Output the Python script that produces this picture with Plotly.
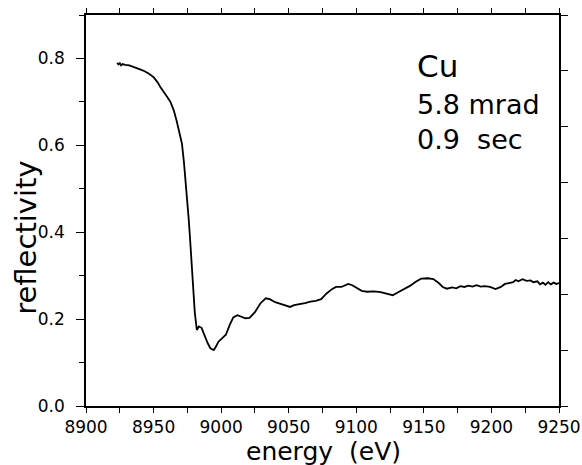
import plotly.graph_objects as go

# Cu reflectivity scan
energy = [8923, 8924, 8925, 8926, 8927, 8929, 8932, 8936, 8940, 8943, 8946, 8950,
          8953, 8955, 8957.5, 8960, 8962.5, 8965, 8967, 8969, 8971, 8972.5, 8973.5,
          8975, 8976, 8977, 8978.3, 8979.5, 8980.5, 8982, 8983.5, 8985.5, 8988, 8990,
          8992, 8994.5, 8996, 8998, 9001, 9003.5, 9006.5, 9009, 9012, 9015, 9018,
          9021, 9025, 9029, 9033, 9036, 9040, 9044, 9048, 9051, 9054, 9058, 9062,
          9066, 9070, 9074, 9078, 9082, 9085, 9089, 9094, 9097, 9100, 9104, 9108,
          9113, 9118, 9123, 9127, 9131, 9135, 9140, 9144, 9148, 9153, 9157, 9161,
          9164, 9167, 9171, 9174, 9177, 9180, 9183, 9186, 9189, 9192, 9195, 9199,
          9203, 9207, 9210, 9213, 9216, 9218, 9220, 9223, 9226, 9229, 9231, 9234,
          9236, 9238, 9240, 9242, 9244, 9246, 9248, 9250]
reflectivity = [0.790, 0.786, 0.789, 0.784, 0.787, 0.785, 0.784, 0.780, 0.775, 0.771,
                0.766, 0.757, 0.745, 0.734, 0.724, 0.712, 0.700, 0.680, 0.657, 0.632,
                0.604, 0.560, 0.527, 0.470, 0.430, 0.385, 0.328, 0.260, 0.215, 0.175,
                0.183, 0.180, 0.160, 0.145, 0.133, 0.129, 0.136, 0.148, 0.157, 0.164,
                0.188, 0.204, 0.209, 0.206, 0.202, 0.203, 0.216, 0.236, 0.248, 0.246,
                0.239, 0.235, 0.232, 0.228, 0.232, 0.234, 0.237, 0.240, 0.242, 0.246,
                0.259, 0.269, 0.274, 0.274, 0.281, 0.278, 0.273, 0.265, 0.263, 0.264,
                0.262, 0.258, 0.255, 0.262, 0.268, 0.277, 0.286, 0.293, 0.294, 0.292,
                0.283, 0.274, 0.270, 0.273, 0.271, 0.276, 0.274, 0.277, 0.275, 0.278,
                0.275, 0.276, 0.274, 0.269, 0.274, 0.281, 0.283, 0.285, 0.290, 0.287,
                0.292, 0.288, 0.289, 0.285, 0.287, 0.280, 0.284, 0.279, 0.285, 0.280,
                0.284, 0.281, 0.283]

labels = ["Cu", "5.8 mrad", "0.9  sec"]

font = "DejaVu Sans"

fig = go.Figure()

fig.add_trace(go.Scatter(
    x=energy, y=reflectivity, mode="lines",
    line=dict(color="black", width=1.8), showlegend=False,
))
# dummy trace so the top/right tick axes get drawn
fig.add_trace(go.Scatter(x=[None], y=[None], yaxis="y2", xaxis="x2", showlegend=False))

fig.update_layout(
    width=582, height=465,
    margin=dict(l=86, r=23, t=15, b=59),
    paper_bgcolor="white", plot_bgcolor="white",
    font=dict(family=font, color="black"),
    xaxis=dict(
        range=[8900, 9250], dtick=50, tick0=8900, automargin=False,
        showgrid=False, zeroline=False,
        showline=True, linecolor="black", linewidth=1.5,
        ticks="outside", ticklen=5, tickwidth=1.2, tickcolor="black",
        minor=dict(dtick=25, ticks="outside", ticklen=5, tickwidth=1.2, tickcolor="black"),
        tickfont=dict(size=17), ticklabelstandoff=0,
    ),
    xaxis2=dict(
        overlaying="x", side="top", range=[8900, 9250], dtick=25, tick0=8900,
        automargin=False, showgrid=False, zeroline=False, showticklabels=False,
        showline=True, linecolor="black", linewidth=1.5,
        ticks="outside", ticklen=5, tickwidth=1.2, tickcolor="black",
    ),
    yaxis=dict(
        range=[0, 0.9], dtick=0.2, tick0=0, tickformat=".1f", automargin=False,
        showgrid=False, zeroline=False,
        showline=True, linecolor="black", linewidth=1.5,
        ticks="outside", ticklen=8, tickwidth=1.2, tickcolor="black",
        minor=dict(dtick=0.1, ticks="outside", ticklen=5, tickwidth=1.2, tickcolor="black"),
        tickfont=dict(size=17), ticklabelstandoff=8,
    ),
    yaxis2=dict(
        overlaying="y", side="right", range=[0, 7], dtick=1, tick0=0,
        automargin=False, showgrid=False, zeroline=False, showticklabels=False,
        showline=True, linecolor="black", linewidth=1.5,
        ticks="outside", ticklen=7, tickwidth=1.2, tickcolor="black",
    ),
)

fig.add_annotation(x=0.503, y=-0.116, xref="paper", yref="paper",
                   text="energy  (eV)", showarrow=False,
                   xanchor="center", yanchor="middle",
                   font=dict(size=25, family=font))
fig.add_annotation(x=-0.127, y=0.43, xref="paper", yref="paper",
                   text="reflectivity", showarrow=False, textangle=-90,
                   xanchor="center", yanchor="middle",
                   font=dict(size=29, family=font))

sizes = [31, 27, 27]
ys = [0.921, 0.816, 0.726]
for txt, s, yy in zip(labels, sizes, ys):
    fig.add_annotation(x=0.696, y=yy, xref="paper", yref="paper",
                       text=txt, showarrow=False, xanchor="left",
                       font=dict(size=s, family=font))

# drop the default page margin so the plot sits at the window's corner
fig.write_html("out.html", config={"displayModeBar": False},
               post_script="document.body.style.margin='0';")
